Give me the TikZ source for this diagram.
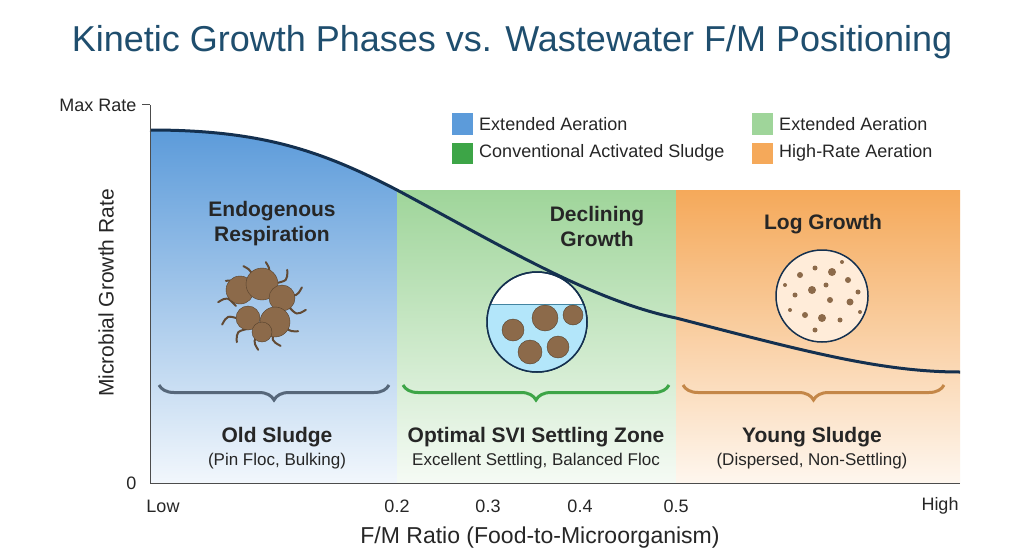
\documentclass[tikz,border=0pt]{standalone}
\usepackage{fontspec}
\setmainfont{Liberation Sans}
\usetikzlibrary{positioning,calc,decorations.pathreplacing}
\definecolor{titleblue}{HTML}{1F4E6E}
\definecolor{curvenavy}{HTML}{14304F}
\definecolor{blueA}{HTML}{5C9BDA}
\definecolor{greenA}{HTML}{9FD59A}
\definecolor{greenB}{HTML}{3DA547}
\definecolor{orangeA}{HTML}{F5A95A}
\definecolor{slate}{HTML}{56677A}
\definecolor{floc}{HTML}{8C6A4A}
\begin{document}
\begin{tikzpicture}[x=1pt,y=-1pt,
        lbl/.style = {font=\fontsize{18}{20}\selectfont, text=black!85},
        head/.style = {font=\bfseries\fontsize{21}{25}\selectfont, align=center, text=black!85},
        sub/.style = {font=\fontsize{17}{19}\selectfont, text=black!85},
        key/.style = {minimum size=21pt, inner sep=0pt},
        B/.style = {decorate,
                    decoration={brace, amplitude=15pt, mirror,
                    pre=moveto,pre length=1pt,post=moveto,post length=1pt},
                    line width=3pt, #1},
        ]
\useasboundingbox (0,0) rectangle (1024,559);
\fill[white] (0,0) rectangle (1024,559);
\node[font=\fontsize{36}{40}\selectfont, text=titleblue] (title) at (512,42)
      {Kinetic Growth Phases vs. Wastewater F/M Positioning};
% phase zones
\begin{scope}
  \clip (150,105) rectangle (397,483);
  \shade[top color=blueA, bottom color=blueA!8]
    (150,483) -- (150,130) .. controls (260,130) and (320,150) .. (397,190) -- (397,483) -- cycle;
\end{scope}
\shade[top color=greenA, bottom color=greenA!10] (397,190) rectangle (676,483);
\shade[top color=orangeA, bottom color=orangeA!10] (676,190) rectangle (960,483);
% growth curve
\draw[curvenavy, line width=3pt] (150,130) .. controls (260,130) and (320,150) .. (397,190)
      .. controls (500,245) and (590,300) .. (676,318)
      .. controls (800,350) and (880,372) .. (960,372);
% axes
\draw[black!70, line width=1pt] (150,105) -- (150,483) -- (960,483);
\draw[black!70, line width=1pt] (142,105) -- (150,105);
\node[lbl, left] (ymax) at (140,105) {Max Rate};
\node[lbl, left] (yzero) at (140,483) {0};
\node[lbl, font=\fontsize{21}{24}\selectfont, rotate=90] (ytitle) at (106,293) {Microbial Growth Rate};
\foreach \x/\t in {163/Low, 397/0.2, 488/0.3, 580/0.4, 676/0.5, 940/High}
    \node[lbl] at (\x,506) {\t};
\node[font=\fontsize{23}{26}\selectfont, text=black!85] (xtitle) at (540,538)
      {F/M Ratio (Food-to-Microorganism)};
% legend
\foreach \x/\y/\c/\t in {462/124/blueA/Extended Aeration,
                         462/153/greenB/Conventional Activated Sludge,
                         762/124/greenA/Extended Aeration,
                         762/153/orangeA/High-Rate Aeration}
    \node[key, fill=\c, label={[lbl, anchor=west, xshift=3pt]east:\t}] at (\x,\y) {};
% phase titles
\node[head] (endo) at (272,224) {Endogenous\\Respiration};
\node[head] (decl) at (597,226) {Declining\\Growth};
\node[head] (logg) at (823,224) {Log Growth};
% icons
\foreach \a in {0,30,...,330}
    \draw[floc!70!black, line width=2pt, line cap=round] ($(262,306)+(\a:26)$) .. controls ($(262,306)+(\a+15:36)$) .. ($(262,306)+(\a+5:44)$);
\foreach \px/\py/\r in {240/290/14, 262/284/16, 282/298/13, 248/318/12, 275/322/15, 262/332/10}
    \fill[floc, draw=floc!60!black] (\px,\py) circle (\r);
\node[circle, draw=curvenavy, line width=1.5pt, minimum size=100pt, fill=white] (water) at (537,322) {};
\fill[cyan!30] ($(water.center)+(-47,-18)$) arc[start angle=201, end angle=-21, radius=50] -- cycle;
\draw[cyan!60!black, line width=1pt] ($(water.center)+(-47,-18)$) -- ($(water.center)+(47,-18)$);
\draw[curvenavy, line width=1.5pt] (water.center) circle (50);
\foreach \px/\py/\r in {513/330/11, 545/318/13, 573/315/10, 530/352/12, 558/347/11}
    \fill[floc, draw=floc!60!black] (\px,\py) circle (\r);
\node[circle, draw=curvenavy, line width=1.5pt, minimum size=92pt, fill=orange!15] (disp) at (822,296) {};
\foreach \px/\py/\r in {800/275/3, 815/268/2.5, 832/272/4, 848/280/3, 795/295/2.5, 812/290/4, 830/300/3,
                     850/302/3.5, 805/315/3, 822/318/4, 840/320/2.5, 858/292/2.5, 790/310/2, 826/285/2.5,
                     785/285/2, 842/262/2, 860/312/2, 815/330/2.5}
    \fill[floc] (\px,\py) circle (\r);
% braces and zone labels
\draw[B=slate] (158,385) -- (390,385);
\draw[B=greenB] (402,385) -- (670,385);
\draw[B=orangeA!80!black] (682,385) -- (945,385);
\node[head] (old) at (277,437) {Old Sludge};
\node[sub] at (277,461) {(Pin Floc, Bulking)};
\node[head] (opt) at (536,437) {Optimal SVI Settling Zone};
\node[sub] at (536,461) {Excellent Settling, Balanced Floc};
\node[head] (young) at (812,437) {Young Sludge};
\node[sub] at (812,461) {(Dispersed, Non-Settling)};
\end{tikzpicture}
\end{document}
